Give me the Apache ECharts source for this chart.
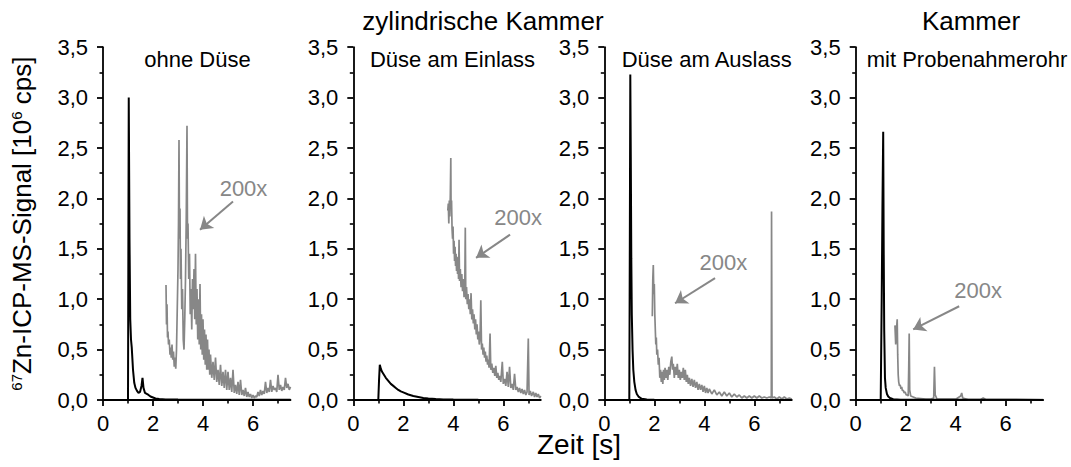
<!DOCTYPE html>
<html>
<head>
<meta charset="utf-8">
<script src="https://cdn.jsdelivr.net/npm/echarts@6/dist/echarts.min.js"></script>
<style>
html,body{margin:0;padding:0;background:#fff;}
#c{width:1071px;height:467px;}
</style>
</head>
<body>
<div id="c"></div>
<script>
// ---- data ----
const panelLabels = ['ohne Düse', 'Düse am Einlass', 'Düse am Auslass', 'mit Probenahmerohr'];
const xTicks = [0, 2, 4, 6];
const xMinorTicks = [1, 3, 5, 7];
const yTicks = [0, 0.5, 1, 1.5, 2, 2.5, 3, 3.5];

const p1Black = [[0,0],[1.0,0],[1.03,3.0],[1.06,1.6],[1.09,0.8],[1.12,0.6],[1.15,0.52],[1.2,0.3],[1.25,0.17],[1.3,0.12],[1.36,0.09],[1.42,0.07],[1.48,0.08],[1.54,0.14],[1.58,0.22],[1.62,0.12],[1.68,0.07],[1.75,0.06],[1.82,0.05],[1.9,0.035],[2.0,0.025],[2.1,0.015],[2.25,0.01],[2.5,0.005],[3,0.004],[4,0.003],[5,0.002],[6,0.002],[7.5,0.002]];
const p1Gray = [[2.52,1.14],[2.54,0.75],[2.56,0.95],[2.58,0.62],[2.6,0.68],[2.62,0.55],[2.65,0.6],[2.68,0.45],[2.7,0.52],[2.73,0.42],[2.76,0.55],[2.79,0.4],[2.82,0.48],[2.85,0.33],[2.88,0.42],[2.91,0.31],[2.94,0.5],[2.97,0.9],[3.0,1.3],[3.02,1.75],[3.04,2.58],[3.06,1.6],[3.08,1.9],[3.1,1.2],[3.12,1.5],[3.15,0.9],[3.18,1.1],[3.21,0.6],[3.24,0.5],[3.27,0.8],[3.3,1.2],[3.33,1.8],[3.36,2.72],[3.38,1.6],[3.4,1.75],[3.43,1.2],[3.46,1.45],[3.49,0.85],[3.52,1.1],[3.55,0.7],[3.58,1.2],[3.61,0.9],[3.64,1.3],[3.67,0.8],[3.7,1.45],[3.73,0.75],[3.76,1.1],[3.79,0.6],[3.82,1.0],[3.85,0.55],[3.88,1.15],[3.91,0.5],[3.94,0.85],[3.97,0.45],[4.0,0.8],[4.03,0.4],[4.06,0.7],[4.09,0.35],[4.12,0.65],[4.15,0.3],[4.18,0.6],[4.21,0.3],[4.24,0.5],[4.27,0.25],[4.3,0.45],[4.35,0.22],[4.4,0.38],[4.45,0.2],[4.5,0.42],[4.55,0.18],[4.6,0.3],[4.65,0.15],[4.7,0.35],[4.75,0.14],[4.8,0.28],[4.85,0.12],[4.9,0.3],[4.95,0.1],[5.0,0.28],[5.05,0.1],[5.1,0.22],[5.15,0.08],[5.2,0.3],[5.25,0.07],[5.3,0.15],[5.35,0.06],[5.4,0.18],[5.45,0.05],[5.5,0.2],[5.55,0.05],[5.6,0.1],[5.65,0.04],[5.7,0.12],[5.75,0.03],[5.8,0.08],[5.85,0.03],[5.9,0.06],[5.95,0.02],[6.0,0.05],[6.05,0.02],[6.1,0.04],[6.15,0.03],[6.2,0.08],[6.25,0.04],[6.3,0.1],[6.35,0.05],[6.4,0.09],[6.45,0.06],[6.5,0.18],[6.55,0.07],[6.6,0.12],[6.65,0.08],[6.7,0.2],[6.75,0.08],[6.8,0.14],[6.85,0.1],[6.9,0.12],[6.95,0.08],[7.0,0.25],[7.05,0.1],[7.1,0.15],[7.15,0.09],[7.2,0.13],[7.25,0.1],[7.3,0.22],[7.35,0.12],[7.4,0.16],[7.45,0.1],[7.5,0.13]];

const p2Black = [[0,0],[1.0,0],[1.03,0.2],[1.06,0.35],[1.1,0.31],[1.15,0.28],[1.2,0.26],[1.3,0.22],[1.4,0.19],[1.5,0.16],[1.6,0.14],[1.7,0.12],[1.8,0.1],[1.9,0.085],[2.0,0.075],[2.2,0.055],[2.4,0.04],[2.6,0.03],[2.8,0.02],[3.0,0.014],[3.3,0.009],[3.6,0.006],[4,0.004],[5,0.002],[6,0.001],[7.5,0.001]];
const p2Gray = [[3.78,1.88],[3.8,1.95],[3.82,1.75],[3.84,1.98],[3.86,1.82],[3.88,2.02],[3.9,2.4],[3.91,1.9],[3.93,1.98],[3.95,1.7],[3.97,1.6],[3.99,1.72],[4.01,1.45],[4.03,1.58],[4.05,1.38],[4.07,1.52],[4.09,1.33],[4.11,1.45],[4.13,1.28],[4.15,1.42],[4.17,1.25],[4.19,1.38],[4.21,1.2],[4.23,1.59],[4.25,1.18],[4.28,1.3],[4.31,1.12],[4.34,1.25],[4.37,1.08],[4.4,1.2],[4.43,1.02],[4.46,1.15],[4.48,1.71],[4.5,1.0],[4.53,1.12],[4.56,0.95],[4.59,1.05],[4.62,0.9],[4.65,1.0],[4.68,0.85],[4.71,1.06],[4.74,0.8],[4.77,0.9],[4.8,0.76],[4.83,0.85],[4.86,0.7],[4.89,0.8],[4.92,0.65],[4.95,0.75],[4.98,0.6],[5.01,0.68],[5.04,0.55],[5.07,0.62],[5.1,0.99],[5.13,0.5],[5.16,0.56],[5.19,0.45],[5.22,0.52],[5.25,0.42],[5.28,0.48],[5.31,0.38],[5.34,0.44],[5.37,0.35],[5.4,0.4],[5.43,0.32],[5.47,0.66],[5.5,0.3],[5.54,0.36],[5.58,0.27],[5.62,0.32],[5.66,0.24],[5.7,0.34],[5.74,0.22],[5.78,0.27],[5.82,0.2],[5.86,0.24],[5.9,0.18],[5.96,0.38],[6.0,0.16],[6.05,0.21],[6.1,0.14],[6.15,0.28],[6.2,0.13],[6.25,0.33],[6.3,0.12],[6.35,0.16],[6.4,0.1],[6.45,0.26],[6.5,0.1],[6.55,0.13],[6.6,0.08],[6.65,0.12],[6.7,0.07],[6.75,0.11],[6.8,0.06],[6.85,0.1],[6.9,0.05],[6.95,0.08],[7.0,0.61],[7.03,0.05],[7.08,0.09],[7.13,0.04],[7.2,0.08],[7.25,0.03],[7.3,0.07],[7.35,0.03],[7.4,0.06],[7.45,0.02],[7.5,0.04]];

const p3Black = [[0,0],[1.0,0],[1.02,1.5],[1.04,3.23],[1.06,2.4],[1.08,1.4],[1.1,0.85],[1.13,0.5],[1.16,0.3],[1.2,0.18],[1.25,0.1],[1.3,0.06],[1.38,0.03],[1.5,0.012],[1.7,0.005],[2,0.002],[7.5,0.001]];
const p3Gray = [[1.92,0.83],[1.94,1.2],[1.96,1.34],[1.98,1.05],[2.0,1.15],[2.02,0.85],[2.04,0.7],[2.06,0.55],[2.08,0.62],[2.1,0.45],[2.13,0.5],[2.16,0.35],[2.19,0.42],[2.22,0.22],[2.25,0.3],[2.28,0.18],[2.31,0.28],[2.34,0.16],[2.37,0.3],[2.4,0.2],[2.43,0.32],[2.46,0.22],[2.5,0.3],[2.54,0.2],[2.58,0.33],[2.62,0.25],[2.66,0.38],[2.7,0.43],[2.73,0.3],[2.76,0.36],[2.8,0.22],[2.84,0.33],[2.88,0.25],[2.92,0.36],[2.96,0.22],[3.0,0.3],[3.04,0.2],[3.08,0.28],[3.12,0.22],[3.16,0.32],[3.2,0.2],[3.24,0.3],[3.28,0.18],[3.32,0.25],[3.36,0.16],[3.4,0.22],[3.45,0.14],[3.5,0.21],[3.55,0.13],[3.6,0.2],[3.65,0.12],[3.7,0.18],[3.75,0.1],[3.8,0.16],[3.85,0.1],[3.9,0.15],[3.95,0.08],[4.0,0.14],[4.05,0.07],[4.1,0.12],[4.15,0.07],[4.2,0.11],[4.3,0.06],[4.4,0.1],[4.5,0.05],[4.6,0.08],[4.7,0.04],[4.8,0.08],[4.9,0.04],[5.0,0.07],[5.1,0.03],[5.2,0.06],[5.3,0.03],[5.4,0.05],[5.5,0.02],[5.6,0.04],[5.7,0.02],[5.8,0.04],[5.9,0.02],[6.0,0.04],[6.1,0.02],[6.2,0.04],[6.3,0.02],[6.4,0.03],[6.5,0.02],[6.6,0.03],[6.68,0.02],[6.69,1.87],[6.71,0.02],[6.8,0.03],[6.9,0.01],[7.0,0.03],[7.1,0.01],[7.2,0.03],[7.3,0.01],[7.4,0.02],[7.5,0.01]];

const p4Black = [[0,0],[1.0,0],[1.04,1.0],[1.07,1.93],[1.1,2.66],[1.12,1.5],[1.14,0.7],[1.17,0.22],[1.2,0.12],[1.25,0.06],[1.3,0.035],[1.37,0.02],[1.5,0.008],[1.8,0.003],[7.5,0.001]];
const p4Gray = [[1.57,0.74],[1.6,0.55],[1.63,0.7],[1.66,0.8],[1.68,0.45],[1.7,0.25],[1.72,0.18],[1.75,0.14],[1.78,0.15],[1.81,0.11],[1.84,0.13],[1.87,0.09],[1.9,0.1],[1.94,0.07],[1.98,0.08],[2.02,0.05],[2.06,0.05],[2.1,0.04],[2.12,0.3],[2.14,0.66],[2.16,0.1],[2.2,0.04],[2.3,0.03],[2.4,0.02],[2.6,0.015],[2.8,0.01],[3.0,0.01],[3.12,0.02],[3.15,0.33],[3.18,0.05],[3.25,0.01],[3.6,0.008],[4.0,0.008],[4.2,0.04],[4.24,0.07],[4.28,0.02],[4.5,0.005],[5.0,0.005],[5.1,0.02],[5.2,0.005],[6.0,0.005],[7.0,0.004],[7.5,0.004]];

// annotation "200x" label position and arrow (from, to) in data coordinates
const annoText = [[5.62,2.10],[6.59,1.81],[4.76,1.36],[4.90,1.09]];
const annoArrowFrom = [[5.2,1.97],[6.27,1.64],[4.43,1.21],[4.14,0.93]];
const annoArrowTo = [[3.88,1.69],[4.91,1.41],[2.83,0.96],[2.3,0.70]];

const blacks = [p1Black, p2Black, p3Black, p4Black];
const grays = [p1Gray, p2Gray, p3Gray, p4Gray];

// ---- layout ----
const FONT = 'Liberation Sans, Arial, sans-serif';
const GRAY = '#878787';
const gridLefts = [103, 353.3, 604.3, 855.7];
const gridTop = 47.2, gridW = 187.5, gridH = 352.8;
const labelCenters = [192.5, 447.5, 701.7, 962];

const grid = [], xAxis = [], yAxis = [], series = [], title = [];
gridLefts.forEach((l, i) => {
  grid.push({left: l, top: gridTop, width: gridW, height: gridH});
  xAxis.push({
    type: 'value', gridIndex: i, min: 0, max: 7.5, position: 'bottom',
    axisLine: {lineStyle: {color: '#000', width: 1.8}},
    axisTick: {customValues: xTicks, length: 6, lineStyle: {color: '#000', width: 1.8}},
    axisLabel: {customValues: xTicks, color: '#000', fontSize: 22, lineHeight: 17, fontFamily: FONT, margin: 15},
    splitLine: {show: false}
  });
  xAxis.push({
    type: 'value', gridIndex: i, min: 0, max: 7.5, position: 'bottom',
    axisLine: {show: false},
    axisTick: {customValues: xMinorTicks, length: 3.5, lineStyle: {color: '#000', width: 1.6}},
    axisLabel: {show: false},
    splitLine: {show: false}
  });
  const y = {
    type: 'value', gridIndex: i, min: 0, max: 3.5, interval: 0.5,
    axisLine: {show: true, lineStyle: {color: '#000', width: 1.8}},
    axisTick: {show: true, length: 6, lineStyle: {color: '#000', width: 1.8}},
    minorTick: {show: true, splitNumber: 2, length: 3.5, lineStyle: {color: '#000', width: 1.6}},
    axisLabel: {color: '#000', fontSize: 22, fontFamily: FONT, margin: 15,
      customValues: yTicks,
      formatter: v => v.toFixed(1).replace('.', ',')},
    splitLine: {show: false}
  };
  if (i === 0) {
    y.name = '{sup|67}Zn-ICP-MS-Signal [10{sup|6} cps]';
    y.nameLocation = 'middle';
    y.nameRotate = 90;
    y.nameGap = 68;
    y.nameTextStyle = {color: '#000', fontSize: 26, fontFamily: FONT,
      rich: {sup: {fontSize: 15, verticalAlign: 'top', fontFamily: FONT, color: '#000', padding: [0,0,11,0]}}};
  }
  yAxis.push(y);
  series.push({
    type: 'line', xAxisIndex: 2 * i, yAxisIndex: i, data: grays[i], showSymbol: false,
    lineStyle: {color: GRAY, width: 1.7}, animation: false, silent: true, z: 2,
    markLine: {
      silent: true, animation: false, symbol: ['none', 'arrow'], symbolSize: 12,
      lineStyle: {color: GRAY, width: 2, type: 'solid'}, label: {show: false},
      data: [[{coord: annoArrowFrom[i]}, {coord: annoArrowTo[i]}]]
    },
    markPoint: {
      silent: true, animation: false, symbol: 'circle', symbolSize: 0,
      label: {show: true, position: 'inside', formatter: '200x', color: GRAY, fontSize: 22, fontFamily: FONT},
      data: [{coord: annoText[i]}]
    }
  });
  series.push({
    type: 'line', xAxisIndex: 2 * i, yAxisIndex: i, data: blacks[i], showSymbol: false,
    lineStyle: {color: '#000', width: 2}, animation: false, silent: true, z: 3
  });
  title.push({
    text: panelLabels[i], left: labelCenters[i], top: 43, textAlign: 'center',
    textStyle: {color: '#000', fontSize: 22, fontWeight: 'normal', fontFamily: FONT}
  });
});
title.push({text: 'zylindrische Kammer', left: 478, top: 3, textAlign: 'center',
  textStyle: {color: '#000', fontSize: 26, fontWeight: 'normal', fontFamily: FONT}});
title.push({text: 'Kammer', left: 966, top: 3, textAlign: 'center',
  textStyle: {color: '#000', fontSize: 26, fontWeight: 'normal', fontFamily: FONT}});
title.push({text: 'Zeit [s]', left: 579, top: 432, textAlign: 'center', padding: 0,
  textStyle: {color: '#000', fontSize: 28, lineHeight: 24, fontWeight: 'normal', fontFamily: FONT}});

const chart = echarts.init(document.getElementById('c'), null, {renderer: 'svg'});
chart.setOption({animation: false, backgroundColor: '#fff', title, grid, xAxis, yAxis, series});
</script>
</body>
</html>
